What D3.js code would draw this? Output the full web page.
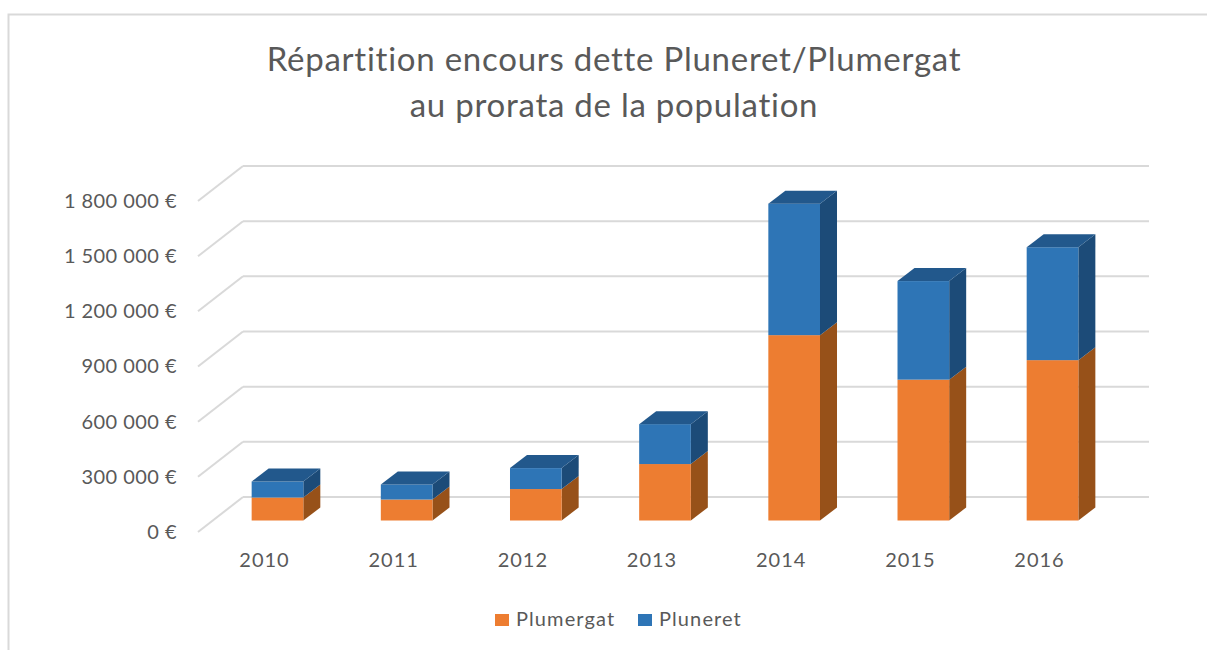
<!DOCTYPE html>
<html>
<head>
  <meta charset="utf-8">
  <title>Répartition encours dette</title>
  <style>
    body { margin: 0; background: #fff; }
    svg { display: block; font-family: Lato, "Open Sans", sans-serif; }
    .axis path, .axis line { display: none; }
    .axis text { font-family: Lato, "Open Sans", sans-serif; font-size: 20px; fill: #595959; }
    .y-axis text { letter-spacing: 0.45px; }
    .x-axis text { letter-spacing: 1px; }
  </style>
</head>
<body>
  <svg width="1207" height="650"></svg>
  <script src="https://d3js.org/d3.v7.min.js"></script>
  <script>
  // données
  var years = ["2010", "2011", "2012", "2013", "2014", "2015", "2016"];
  var plumergat = [125000, 114000, 171000, 307000, 1008000, 766000, 872000];
  var pluneret = [87000, 82000, 114000, 217000, 715000, 536000, 614000];
  var seriesNames = ["Plumergat", "Pluneret"];
  var yTicks = [0, 300000, 600000, 900000, 1200000, 1500000, 1800000];
  var titleLines = ["Répartition encours dette Pluneret/Plumergat", "au prorata de la population"];

  var colors = { Plumergat: "#ed7d31", Pluneret: "#2e75b6" };
  var sides = { Plumergat: "#975119", Pluneret: "#1c4b78" };
  var topColor = "#22588c";
  var gridColor = "#d9d9d9";

  // profondeur du mur 3D et des barres
  var wallDx = 45, wallDy = 35;
  var barDx = 17, barDy = 13;
  var barOffsetY = 23.5;

  var svg = d3.select("svg");

  // cadre
  svg.append("path")
    .attr("d", "M8.5,650V14.5H1207")
    .attr("fill", "none")
    .attr("stroke", gridColor)
    .attr("stroke-width", 2);

  // titre
  svg.selectAll(".title")
    .data(titleLines)
    .enter()
    .append("text")
    .attr("class", "title")
    .attr("x", 614)
    .attr("y", function(d, i) { return 71 + i * 46; })
    .attr("text-anchor", "middle")
    .attr("font-size", 33)
    .attr("letter-spacing", 0.75)
    .attr("fill", "#595959")
    .text(function(d) { return d; });

  // y = plan du fond
  var y = d3.scaleLinear().domain([0, 1800000]).range([497, 166]);
  var x = d3.scaleBand().domain(years).range([212.9, 1117.1]).paddingInner(0.6).paddingOuter(0.3);

  // grille
  var grid = svg.append("g");
  grid.selectAll(".back")
    .data(yTicks)
    .enter()
    .append("line")
    .attr("x1", 243)
    .attr("x2", 1149)
    .attr("y1", function(d) { return y(d); })
    .attr("y2", function(d) { return y(d); })
    .attr("stroke", gridColor)
    .attr("stroke-width", 2);
  grid.selectAll(".wall")
    .data(yTicks)
    .enter()
    .append("line")
    .attr("x1", 243 - wallDx)
    .attr("x2", 243)
    .attr("y1", function(d) { return y(d) + wallDy; })
    .attr("y2", function(d) { return y(d); })
    .attr("stroke", gridColor)
    .attr("stroke-width", 2);

  // axes
  var euro = d3.formatLocale({ decimal: ",", thousands: "\u00a0", grouping: [3], currency: ["", " €"] }).format("$,");
  svg.append("g")
    .attr("class", "axis y-axis")
    .attr("transform", "translate(177," + wallDy + ")")
    .call(d3.axisLeft(y).tickValues(yTicks).tickSize(0).tickPadding(0).tickFormat(euro));
  svg.append("g")
    .attr("class", "axis x-axis")
    .attr("transform", "translate(-13,561)")
    .call(d3.axisBottom(x).tickSize(0).tickPadding(0))
    .selectAll("text")
    .attr("dy", "0.32em");

  // barres empilées
  var rows = years.map(function(year, i) {
    return { year: year, Plumergat: plumergat[i], Pluneret: pluneret[i] };
  });
  var stacked = d3.stack().keys(seriesNames)(rows);

  function frontY(v) { return y(v) + barOffsetY; }

  var layers = svg.selectAll(".layer")
    .data(stacked)
    .enter()
    .append("g")
    .attr("class", "layer");

  layers.selectAll(".side")
    .data(function(s) { return s.map(function(d) { return { key: s.key, d: d }; }); })
    .enter()
    .append("path")
    .attr("fill", function(p) { return sides[p.key]; })
    .attr("d", function(p) {
      var xr = x(p.d.data.year) + x.bandwidth();
      var y0 = frontY(p.d[0]), y1 = frontY(p.d[1]);
      return "M" + xr + "," + y0 + "L" + (xr + barDx) + "," + (y0 - barDy) +
        "L" + (xr + barDx) + "," + (y1 - barDy) + "L" + xr + "," + y1 + "Z";
    });

  layers.selectAll(".front")
    .data(function(s) { return s.map(function(d) { return { key: s.key, d: d }; }); })
    .enter()
    .append("rect")
    .attr("fill", function(p) { return colors[p.key]; })
    .attr("x", function(p) { return x(p.d.data.year); })
    .attr("width", x.bandwidth())
    .attr("y", function(p) { return frontY(p.d[1]); })
    .attr("height", function(p) { return frontY(p.d[0]) - frontY(p.d[1]); });

  // dessus des barres
  svg.selectAll(".top")
    .data(stacked[1])
    .enter()
    .append("path")
    .attr("class", "top")
    .attr("fill", topColor)
    .attr("d", function(d) {
      var xl = x(d.data.year), w = x.bandwidth(), yt = frontY(d[1]);
      return "M" + xl + "," + yt + "L" + (xl + barDx) + "," + (yt - barDy) +
        "L" + (xl + w + barDx) + "," + (yt - barDy) + "L" + (xl + w) + "," + yt + "Z";
    });

  // légende
  var legendX = d3.scaleOrdinal().domain(seriesNames).range([495, 638]);
  var legend = svg.selectAll(".legend")
    .data(seriesNames)
    .enter()
    .append("g")
    .attr("class", "legend")
    .attr("transform", function(d) { return "translate(" + legendX(d) + ",614)"; });
  legend.append("rect")
    .attr("width", 14)
    .attr("height", 12)
    .attr("fill", function(d) { return colors[d]; });
  legend.append("text")
    .attr("x", 21)
    .attr("y", 12)
    .attr("font-size", 20)
    .attr("letter-spacing", 1.1)
    .attr("fill", "#595959")
    .text(function(d) { return d; });
  </script>
</body>
</html>
